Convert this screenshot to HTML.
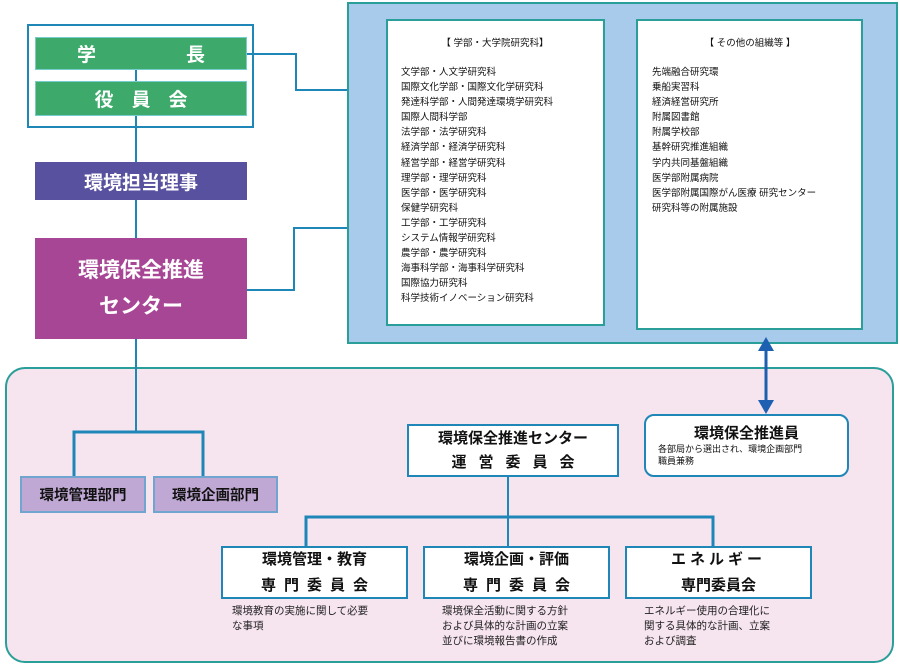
<!DOCTYPE html>
<html><head><meta charset="utf-8"><style>
*{margin:0;padding:0;box-sizing:border-box}
body{width:900px;height:667px;background:#fff;position:relative;overflow:hidden;font-family:"Liberation Sans","Noto Sans CJK JP",sans-serif}
.a{position:absolute}
.c{display:flex;flex-direction:column;align-items:center;justify-content:center;text-align:center}
.g{background:#3daa6b;color:#fff;font-weight:bold;font-size:19px;border:1px solid #7cc}
.w{background:#fff;border:2px solid #1f86b8;color:#111;font-weight:bold}
.list{font-size:9.5px;line-height:15.1px;color:#111}
.desc{font-size:10.5px;line-height:15px;color:#222}
</style></head><body>
<div class="a" style="left:5px;top:367px;width:889px;height:296px;background:#f6e4ef;border:2px solid #2a9e98;border-radius:20px"></div>
<div class="a" style="left:347px;top:2px;width:551px;height:342px;background:#a8cbec;border:2px solid #2a9e98"></div>
<div class="a" style="left:386px;top:19px;width:219px;height:307px;background:#fff;border:2px solid #2a9e98"></div>
<div class="a" style="left:636px;top:19px;width:227px;height:311px;background:#fff;border:2px solid #2a9e98"></div>
<div class="a list" style="left:400px;top:36px;width:190px;text-align:center">【 学部・大学院研究科】</div>
<div class="a list" style="left:401px;top:65px">文学部・人文学研究科<br>国際文化学部・国際文化学研究科<br>発達科学部・人間発達環境学研究科<br>国際人間科学部<br>法学部・法学研究科<br>経済学部・経済学研究科<br>経営学部・経営学研究科<br>理学部・理学研究科<br>医学部・医学研究科<br>保健学研究科<br>工学部・工学研究科<br>システム情報学研究科<br>農学部・農学研究科<br>海事科学部・海事科学研究科<br>国際協力研究科<br>科学技術イノベーション研究科</div>
<div class="a list" style="left:650px;top:36px;width:200px;text-align:center">【 その他の組織等 】</div>
<div class="a list" style="left:652px;top:65px">先端融合研究環<br>乗船実習科<br>経済経営研究所<br>附属図書館<br>附属学校部<br>基幹研究推進組織<br>学内共同基盤組織<br>医学部附属病院<br>医学部附属国際がん医療 研究センター<br>研究科等の附属施設</div>
<svg class="a" style="left:0;top:0" width="900" height="667">
<g stroke="#1f86b8" stroke-width="2" fill="none">
<rect x="28" y="25" width="225" height="102"/>
<line x1="136" y1="70" x2="136" y2="432"/>
<polyline points="247,54 296,54 296,90 347,90"/>
<polyline points="247,290 294,290 294,228 347,228"/>
<line x1="508" y1="477" x2="508" y2="546"/>
<polyline stroke-width="3" points="306,546 306,517 713,517 713,546"/>
</g>
<g stroke="#1f86b8" stroke-width="3" fill="none"><polyline points="74,476 74,432 203,432 203,476"/></g>
<line x1="766" y1="350" x2="766" y2="405" stroke="#1d5fb0" stroke-width="3"/>
<polygon points="766,337 758,351 774,351" fill="#1d5fb0"/>
<polygon points="766,414 758,400 774,400" fill="#1d5fb0"/>
</svg>
<div class="a c g" style="left:35px;top:37px;width:212px;height:33px;flex-direction:row"><span style="margin-right:90px">学</span><span>長</span></div>
<div class="a c g" style="left:35px;top:81px;width:212px;height:35px;letter-spacing:18px;padding-left:18px">役員会</div>
<div class="a c" style="left:35px;top:162px;width:212px;height:38px;background:#58519f;color:#fff;font-weight:bold;font-size:19px">環境担当理事</div>
<div class="a c" style="left:35px;top:238px;width:212px;height:101px;background:#a84696;color:#fff;font-weight:bold;font-size:21px;line-height:36px"><div>環境保全推進</div><div>センター</div></div>
<div class="a c" style="left:20px;top:476px;width:126px;height:37px;background:#c0a8d4;border:2px solid #6fa5cf;font-weight:bold;font-size:14.5px;color:#111">環境管理部門</div>
<div class="a c" style="left:153px;top:476px;width:125px;height:37px;background:#c0a8d4;border:2px solid #6fa5cf;font-weight:bold;font-size:14.5px;color:#111">環境企画部門</div>
<div class="a c w" style="left:407px;top:424px;width:212px;height:53px;font-size:15px;line-height:24px"><div>環境保全推進センター</div><div style="letter-spacing:12px;padding-left:12px">運営委員会</div></div>
<div class="a w" style="left:644px;top:414px;width:205px;height:63px;border-radius:10px;padding:6px 0 0 12px">
<div style="font-size:15px;text-align:center;padding-right:12px">環境保全推進員</div>
<div style="font-size:9px;font-weight:normal;line-height:12px">各部局から選出され、環境企画部門<br>職員兼務</div></div>
<div class="a c w" style="left:221px;top:546px;width:187px;height:53px;font-size:15px;line-height:26px"><div>環境管理・教育</div><div style="letter-spacing:8px;padding-left:8px">専門委員会</div></div>
<div class="a c w" style="left:423px;top:546px;width:187px;height:53px;font-size:15px;line-height:26px"><div>環境企画・評価</div><div style="letter-spacing:8px;padding-left:8px">専門委員会</div></div>
<div class="a c w" style="left:625px;top:546px;width:187px;height:53px;font-size:15px;line-height:26px"><div style="letter-spacing:4px">エネルギー</div><div>専門委員会</div></div>
<div class="a desc" style="left:232px;top:604px">環境教育の実施に関して必要<br>な事項</div>
<div class="a desc" style="left:442px;top:604px">環境保全活動に関する方針<br>および具体的な計画の立案<br>並びに環境報告書の作成</div>
<div class="a desc" style="left:644px;top:604px">エネルギー使用の合理化に<br>関する具体的な計画、立案<br>および調査</div>
</body></html>
